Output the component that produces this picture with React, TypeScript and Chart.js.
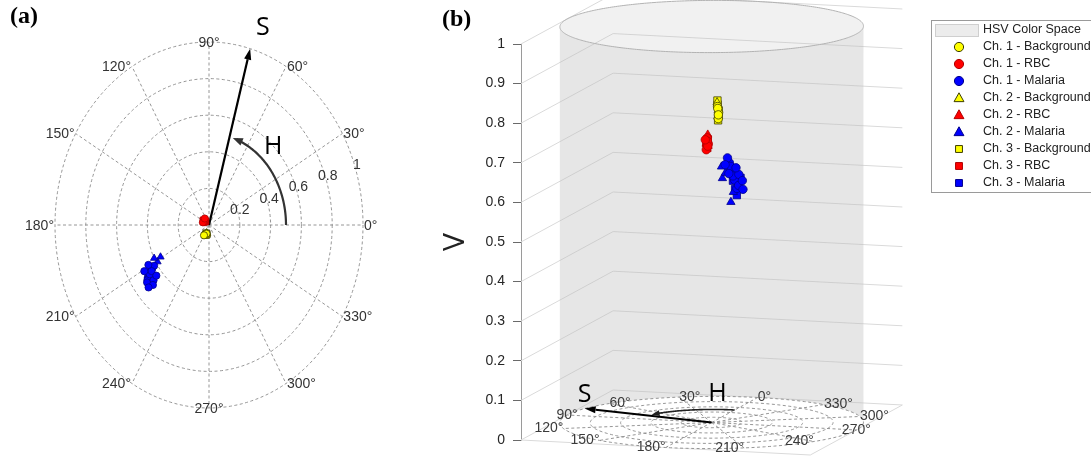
import React, { useEffect, useRef } from 'react';
import { Chart, registerables } from 'chart.js';

Chart.register(...registerables);

// ---------------- data: each point is [H (deg), S, V] ----------------
const ch1Background = [[248, 0.05, 0.8], [254, 0.055, 0.785], [244, 0.06, 0.77], [251, 0.05, 0.795], [240, 0.065, 0.78]];
const ch1RBC = [[140, 0.035, 0.72], [150, 0.03, 0.705], [134, 0.04, 0.69], [146, 0.036, 0.712], [160, 0.042, 0.7], [128, 0.045, 0.715]];
const ch1Malaria = [
  [214, 0.46, 0.665], [216, 0.48, 0.642], [213, 0.44, 0.684], [217, 0.5, 0.622],
  [215, 0.47, 0.652], [212, 0.42, 0.695], [218, 0.51, 0.63], [214, 0.45, 0.675],
  [220, 0.47, 0.655], [222, 0.49, 0.64], [211, 0.49, 0.66], [219, 0.44, 0.67],
  [221, 0.52, 0.62], [209, 0.45, 0.68],
];
const ch2Background = [[250, 0.045, 0.81], [257, 0.05, 0.79], [246, 0.055, 0.775]];
const ch2RBC = [[144, 0.032, 0.728], [156, 0.036, 0.7], [132, 0.04, 0.705]];
const ch2Malaria = [[209, 0.36, 0.64], [211, 0.39, 0.655], [215, 0.48, 0.612], [214, 0.45, 0.585], [207, 0.4, 0.672]];
const ch3Background = [[249, 0.05, 0.805], [255, 0.055, 0.79], [247, 0.06, 0.778], [252, 0.052, 0.765], [250, 0.048, 0.815]];
const ch3RBC = [[138, 0.03, 0.716], [152, 0.04, 0.695], [145, 0.045, 0.708]];
const ch3Malaria = [[215, 0.47, 0.64], [216, 0.49, 0.62], [213, 0.45, 0.66], [217, 0.5, 0.605], [220, 0.5, 0.648]];

const seriesData = [ch1Background, ch1RBC, ch1Malaria, ch2Background, ch2RBC, ch2Malaria, ch3Background, ch3RBC, ch3Malaria];
const seriesLabels = [
  'Ch. 1 - Background', 'Ch. 1 - RBC', 'Ch. 1 - Malaria',
  'Ch. 2 - Background', 'Ch. 2 - RBC', 'Ch. 2 - Malaria',
  'Ch. 3 - Background', 'Ch. 3 - RBC', 'Ch. 3 - Malaria',
];
const cylinderLabel = 'HSV Color Space';

const angleTicks = [0, 30, 60, 90, 120, 150, 180, 210, 240, 270, 300, 330];
const radialTicks = [0.2, 0.4, 0.6, 0.8, 1];
const radialTickLabels = ['0.2', '0.4', '0.6', '0.8', '1'];
const vTicks = [0, 0.1, 0.2, 0.3, 0.4, 0.5, 0.6, 0.7, 0.8, 0.9, 1];
const vTickLabels = ['0', '0.1', '0.2', '0.3', '0.4', '0.5', '0.6', '0.7', '0.8', '0.9', '1'];
const sArrow = { h: 74.5, s: 1 };
const hArc = { r: 0.5, from: 0, to: 72 };

// ---------------- styles ----------------
const YELLOW = { fill: '#ffff00', edge: '#3d3d00' };
const RED = { fill: '#ff0000', edge: '#b00000' };
const BLUE = { fill: '#0000ff', edge: '#00008c' };
const seriesColor = [YELLOW, RED, BLUE, YELLOW, RED, BLUE, YELLOW, RED, BLUE];
const seriesShape = ['circle', 'circle', 'circle', 'triangle', 'triangle', 'triangle', 'rect', 'rect', 'rect'];
const radiusA: Record<string, number> = { circle: 3.6, triangle: 4.2, rect: 4.6 };
const radiusB: Record<string, number> = { circle: 4.2, triangle: 4.8, rect: 5.2 };

const SANS = '"Liberation Sans", Arial, Helvetica, sans-serif';
const LABEL_SANS = '"Open Sans", "DejaVu Sans", sans-serif';
const SERIF = '"Liberation Serif", "Times New Roman", serif';

const rad = (d: number) => (d * Math.PI) / 180;

// 3D projection of the HSV box (panel b). a: along the front edge, b: depth, v: value.
const U = { x: 1, y: -0.0379 };
const D = { x: 0.3183, y: 0.1263 };
const boxPoint = (a: number, b: number, v: number) => ({ x: a * U.x + b * D.x, y: v + a * U.y + b * D.y });
const proj = (h: number, s: number, v: number) =>
  boxPoint(0.5 - 0.5 * s * Math.sin(rad(h)), 0.5 + 0.5 * s * Math.cos(rad(h)), v);
const polarXY = (h: number, s: number) => ({ x: s * Math.cos(rad(h)), y: s * Math.sin(rad(h)) });

type Pt = { x: number; y: number };

function arrowHead(ctx: CanvasRenderingContext2D, from: Pt, to: Pt, len: number, wid: number) {
  const ang = Math.atan2(to.y - from.y, to.x - from.x);
  const bx = to.x - len * Math.cos(ang);
  const by = to.y - len * Math.sin(ang);
  ctx.beginPath();
  ctx.moveTo(to.x, to.y);
  ctx.lineTo(bx + wid * Math.sin(ang), by - wid * Math.cos(ang));
  ctx.lineTo(bx - wid * Math.sin(ang), by + wid * Math.cos(ang));
  ctx.closePath();
  ctx.fill();
  return { x: bx, y: by };
}

function polyline(ctx: CanvasRenderingContext2D, pts: Pt[], close = false) {
  ctx.beginPath();
  pts.forEach((p, i) => (i ? ctx.lineTo(p.x, p.y) : ctx.moveTo(p.x, p.y)));
  if (close) ctx.closePath();
}

function text(ctx: CanvasRenderingContext2D, s: string, x: number, y: number, font: string, color: string, align: CanvasTextAlign = 'center') {
  ctx.font = font;
  ctx.fillStyle = color;
  ctx.textAlign = align;
  ctx.textBaseline = 'middle';
  ctx.fillText(s, x, y);
}

function drawMarker(ctx: CanvasRenderingContext2D, shape: string, x: number, y: number, r: number, fill: string, edge: string) {
  ctx.beginPath();
  if (shape === 'circle') ctx.arc(x, y, r, 0, Math.PI * 2);
  else if (shape === 'triangle') {
    ctx.moveTo(x, y - r);
    ctx.lineTo(x + r * 0.95, y + r * 0.7);
    ctx.lineTo(x - r * 0.95, y + r * 0.7);
    ctx.closePath();
  } else ctx.rect(x - r * 0.75, y - r * 0.75, r * 1.5, r * 1.5);
  ctx.fillStyle = fill;
  ctx.fill();
  ctx.lineWidth = 1;
  ctx.strokeStyle = edge;
  ctx.stroke();
}

const alignFor = (h: number): CanvasTextAlign => {
  const c = Math.cos(rad(h));
  return c > 0.01 ? 'left' : c < -0.01 ? 'right' : 'center';
};

// ---------------- panel (a) plugin ----------------
const polarPlugin = {
  id: 'polarGrid',
  beforeDatasetsDraw(chart: any) {
    const { ctx } = chart;
    const xs = chart.scales.x;
    const ys = chart.scales.y;
    const P = (h: number, r: number): Pt => {
      const q = polarXY(h, r);
      return { x: xs.getPixelForValue(q.x), y: ys.getPixelForValue(q.y) };
    };
    const c = P(0, 0);
    ctx.save();
    ctx.strokeStyle = '#8a8a8a';
    ctx.lineWidth = 0.9;
    ctx.setLineDash([3, 2.5]);
    radialTicks.forEach((r) => {
      ctx.beginPath();
      ctx.ellipse(c.x, c.y, xs.getPixelForValue(r) - c.x, c.y - ys.getPixelForValue(r), 0, 0, Math.PI * 2);
      ctx.stroke();
    });
    angleTicks.forEach((h) => {
      const p = P(h, 1);
      polyline(ctx, [c, p]);
      ctx.stroke();
    });
    ctx.setLineDash([]);
    angleTicks.forEach((h) => {
      const p = P(h, 1);
      const al = alignFor(h);
      text(ctx, `${h}°`, p.x + (al === 'left' ? 1 : al === 'right' ? -1 : 0), p.y + 1, `14px ${SANS}`, '#333', al);
    });
    radialTicks.forEach((r, i) => {
      const x = xs.getPixelForValue(r * Math.cos(rad(18)) + 0.01);
      const y = ys.getPixelForValue(r * Math.sin(rad(18)) + 0.02);
      text(ctx, radialTickLabels[i], x, y, `14px ${SANS}`, '#333');
    });
    // S arrow
    const tip = P(sArrow.h, sArrow.s);
    ctx.fillStyle = '#000';
    const base = arrowHead(ctx, c, tip, 11, 3.6);
    ctx.strokeStyle = '#000';
    ctx.lineWidth = 2.2;
    polyline(ctx, [c, base]);
    ctx.stroke();
    // H arc
    const arc: Pt[] = [];
    for (let h = hArc.from; h <= hArc.to; h += 1) arc.push(P(h, hArc.r));
    ctx.fillStyle = '#333';
    const hb = arrowHead(ctx, arc[arc.length - 4], arc[arc.length - 1], 10, 4);
    ctx.strokeStyle = '#333';
    ctx.lineWidth = 2.2;
    polyline(ctx, arc.slice(0, arc.length - 3).concat([hb]));
    ctx.stroke();
    const sl = P(72, 1.13);
    text(ctx, 'S', sl.x, sl.y, `25px ${LABEL_SANS}`, '#000');
    const hl = P(46, 0.6);
    text(ctx, 'H', hl.x, hl.y + 1, `25px ${LABEL_SANS}`, '#000');
    ctx.restore();
  },
  afterDraw(chart: any) {
    const { ctx } = chart;
    ctx.save();
    text(ctx, '(a)', 10, 17, `bold 24px ${SERIF}`, '#000', 'left');
    ctx.restore();
  },
};

// ---------------- panel (b) plugin ----------------
const boxPlugin = {
  id: 'hsvBox',
  beforeDatasetsDraw(chart: any) {
    const { ctx } = chart;
    const xs = chart.scales.x;
    const ys = chart.scales.y;
    const toPx = (p: Pt): Pt => ({ x: xs.getPixelForValue(p.x), y: ys.getPixelForValue(p.y) });
    const B = (a: number, b: number, v: number) => toPx(boxPoint(a, b, v));
    const E = (h: number, s: number, v: number) => toPx(proj(h, s, v));
    ctx.save();
    // wall grid lines
    ctx.strokeStyle = '#dadada';
    ctx.lineWidth = 1;
    vTicks.forEach((v) => {
      polyline(ctx, [B(0, 0, v), B(0, 1, v), B(1, 1, v)]);
      ctx.stroke();
    });
    polyline(ctx, [B(0, 0, 0), B(1, 0, 0), B(1, 1, 0)]);
    ctx.stroke();

    // cylinder
    const top: Pt[] = [];
    const bot: Pt[] = [];
    for (let k = 0; k < 360; k++) {
      top.push(E(k, 1, 1));
      bot.push(E(k, 1, 0));
    }
    let iL = 0;
    let iR = 0;
    top.forEach((p, k) => {
      if (p.x < top[iL].x) iL = k;
      if (p.x > top[iR].x) iR = k;
    });
    const arcOf = (pts: Pt[], from: number, to: number, dir: number) => {
      const out: Pt[] = [];
      let k = from;
      for (let n = 0; n < 400; n++) {
        out.push(pts[k]);
        if (k === to) break;
        k = (k + dir + 360) % 360;
      }
      return out;
    };
    const meanY = (a: Pt[]) => a.reduce((s, p) => s + p.y, 0) / a.length;
    const backDir = meanY(arcOf(top, iL, iR, 1)) < meanY(arcOf(top, iL, iR, -1)) ? 1 : -1;
    const backPoly = arcOf(top, iL, iR, backDir).concat(arcOf(bot, iL, iR, backDir).reverse());
    const frontPoly = arcOf(top, iL, iR, -backDir).concat(arcOf(bot, iL, iR, -backDir).reverse());
    ctx.fillStyle = 'rgba(190,190,190,0.21)';
    polyline(ctx, backPoly, true);
    ctx.fill();
    polyline(ctx, frontPoly, true);
    ctx.fill();
    ctx.strokeStyle = '#b2b2b2';
    polyline(ctx, top, true);
    ctx.stroke();

    // floor polar plot
    ctx.fillStyle = '#ffffff';
    polyline(ctx, bot, true);
    ctx.fill();
    ctx.strokeStyle = '#8a8a8a';
    ctx.lineWidth = 0.9;
    ctx.setLineDash([3, 2.5]);
    radialTicks.forEach((r) => {
      const ring: Pt[] = [];
      for (let k = 0; k < 360; k += 2) ring.push(E(k, r, 0));
      polyline(ctx, ring, true);
      ctx.stroke();
    });
    const c = E(0, 0, 0);
    angleTicks.forEach((h) => {
      polyline(ctx, [c, E(h, 1, 0)]);
      ctx.stroke();
    });
    ctx.setLineDash([]);
    angleTicks.forEach((h) => {
      const p = E(h, 1, 0);
      const al = alignFor(h);
      text(ctx, `${h}°`, p.x, p.y, `14px ${SANS}`, '#3a3a3a', al);
    });
    // S arrow
    const tip = E(sArrow.h, sArrow.s, 0);
    ctx.fillStyle = '#000';
    const base = arrowHead(ctx, c, tip, 11, 3.6);
    ctx.strokeStyle = '#000';
    ctx.lineWidth = 2.2;
    polyline(ctx, [c, base]);
    ctx.stroke();
    // H arc
    const arc: Pt[] = [];
    for (let h = hArc.from; h <= hArc.to - 2; h += 1) arc.push(E(h, hArc.r, 0));
    ctx.fillStyle = '#222';
    const hb = arrowHead(ctx, arc[arc.length - 6], arc[arc.length - 1], 8, 3);
    ctx.strokeStyle = '#222';
    ctx.lineWidth = 1.6;
    polyline(ctx, arc.slice(0, arc.length - 4).concat([hb]));
    ctx.stroke();
    const sl = E(sArrow.h, 1, 0.035);
    text(ctx, 'S', sl.x, sl.y, `25px ${LABEL_SANS}`, '#000');
    const hl = E(15, 0.55, 0.035);
    text(ctx, 'H', hl.x + 2, hl.y, `25px ${LABEL_SANS}`, '#000');
    ctx.restore();
  },
  afterDraw(chart: any) {
    const { ctx, chartArea } = chart;
    ctx.save();
    text(ctx, '(b)', 22, 20, `bold 24px ${SERIF}`, '#000', 'left');
    // legend
    const lx = chartArea.right + 5;
    const ly = 20;
    ctx.fillStyle = '#fff';
    ctx.fillRect(lx, ly, 200, 172);
    ctx.strokeStyle = '#9a9a9a';
    ctx.lineWidth = 1;
    ctx.strokeRect(lx + 0.5, ly + 0.5, 200, 172);
    const rowY = (i: number) => ly + 10 + i * 17;
    ctx.fillStyle = '#ececec';
    ctx.fillRect(lx + 4, rowY(0) - 6, 43, 12);
    ctx.strokeStyle = '#cfcfcf';
    ctx.strokeRect(lx + 4.5, rowY(0) - 5.5, 43, 12);
    text(ctx, cylinderLabel, lx + 52, rowY(0), `12.5px ${SANS}`, '#222', 'left');
    chart.data.datasets.forEach((ds: any, i: number) => {
      const y = rowY(i + 1);
      drawMarker(ctx, seriesShape[i], lx + 28, y, seriesShape[i] === 'triangle' ? 5.2 : 4.6, seriesColor[i].fill, seriesColor[i].edge);
      text(ctx, ds.label, lx + 52, y, `12.5px ${SANS}`, '#222', 'left');
    });
    ctx.restore();
  },
};

function makeDatasets(panel: 'a' | 'b') {
  return seriesData.map((pts, i) => ({
    label: seriesLabels[i],
    data: pts.map(([h, s, v]) => (panel === 'a' ? polarXY(h, s) : proj(h, s, v))),
    pointStyle: seriesShape[i],
    pointRadius: (panel === 'a' ? radiusA : radiusB)[seriesShape[i]],
    backgroundColor: seriesColor[i].fill,
    borderColor: seriesColor[i].edge,
    borderWidth: 0.8,
    showLine: false,
  }));
}

export default function App() {
  const refA = useRef<HTMLCanvasElement>(null);
  const refB = useRef<HTMLCanvasElement>(null);

  useEffect(() => {
    const chartA = new Chart(refA.current as HTMLCanvasElement, {
      type: 'scatter',
      data: { datasets: makeDatasets('a') as any },
      options: {
        animation: false,
        responsive: false,
        devicePixelRatio: 1,
        maintainAspectRatio: false,
        layout: { padding: { left: 55, right: 57, top: 42, bottom: 50 } },
        plugins: { legend: { display: false }, tooltip: { enabled: false } },
        scales: {
          x: { type: 'linear', min: -1, max: 1, display: false },
          y: { type: 'linear', min: -1, max: 1, display: false },
        },
      },
      plugins: [polarPlugin],
    });

    const chartB = new Chart(refB.current as HTMLCanvasElement, {
      type: 'scatter',
      data: { datasets: makeDatasets('b') as any },
      options: {
        animation: false,
        responsive: false,
        devicePixelRatio: 1,
        maintainAspectRatio: false,
        layout: { padding: { left: 17, right: 165, top: 44, bottom: 18 } },
        plugins: { legend: { display: false }, tooltip: { enabled: false } },
        scales: {
          x: { type: 'linear', min: 0, max: 1.4, display: false },
          y: {
            type: 'linear',
            min: 0,
            max: 1,
            afterFit: (scale: any) => {
              scale.width = 84;
            },
            afterBuildTicks: (scale: any) => {
              scale.ticks = vTicks.map((v) => ({ value: v }));
            },
            ticks: {
              padding: 8,
              color: '#262626',
              font: { size: 14, family: SANS },
              callback: (_v: any, i: number) => vTickLabels[i],
            },
            grid: { drawOnChartArea: false, tickLength: 8, color: '#6a6a6a' },
            border: { display: true, color: '#9a9a9a' },
            title: {
              display: true,
              text: 'V',
              color: '#222',
              padding: 0,
              font: { size: 30, family: LABEL_SANS, lineHeight: 1.2 },
            },
          },
        },
      },
      plugins: [boxPlugin],
    });

    return () => {
      chartA.destroy();
      chartB.destroy();
    };
  }, []);

  return (
    <div style={{ position: 'absolute', left: 0, top: 0, width: 1091, height: 458, background: '#fff', overflow: 'hidden' }}>
      <canvas ref={refA} width={420} height={458} style={{ position: 'absolute', left: 0, top: 0, width: 420, height: 458 }} />
      <canvas ref={refB} width={671} height={458} style={{ position: 'absolute', left: 420, top: 0, width: 671, height: 458 }} />
    </div>
  );
}
